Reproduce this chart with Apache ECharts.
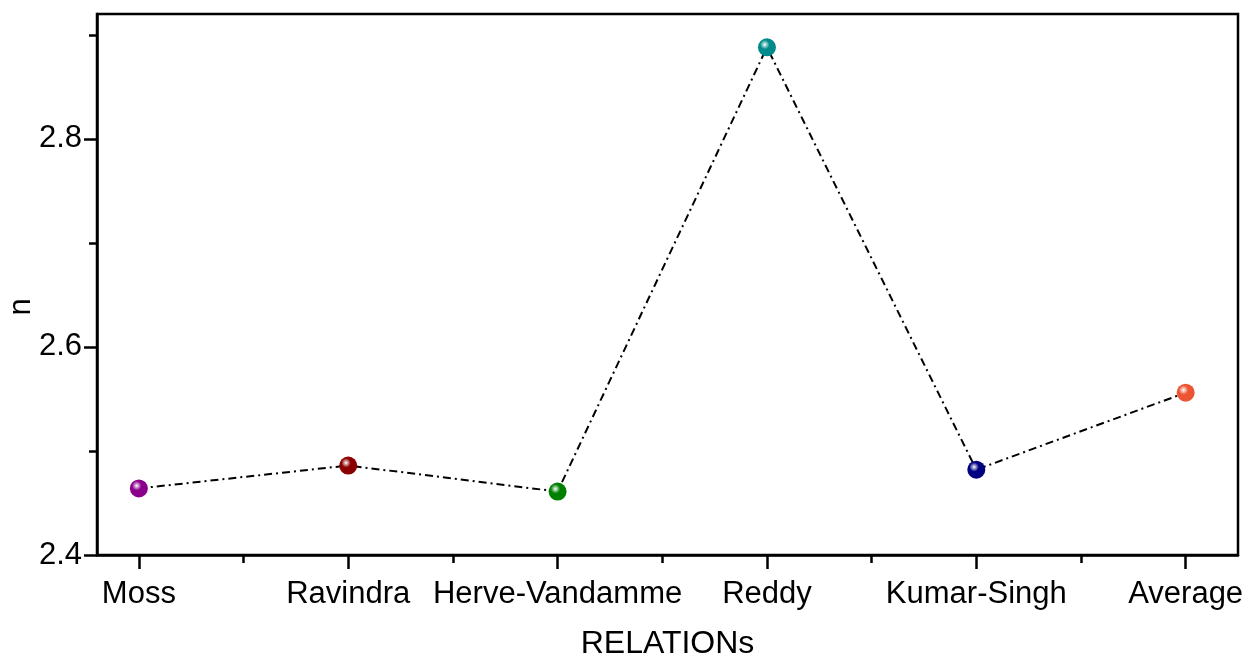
<!DOCTYPE html>
<html>
<head>
<meta charset="utf-8">
<script src="https://cdn.jsdelivr.net/npm/echarts@6/dist/echarts.min.js"></script>
<style>
  html, body { margin: 0; padding: 0; background: #fff; }
  #chart { width: 1249px; height: 660px; }
</style>
</head>
<body>
<div id="chart"></div>
<script>
// data
const relations = ['Moss', 'Ravindra', 'Herve-Vandamme', 'Reddy', 'Kumar-Singh', 'Average'];
const nValues = [2.464, 2.486, 2.461, 2.888, 2.482, 2.556];
const yMajorTicks = [2.4, 2.6, 2.8];
const yMinorTicks = [2.5, 2.7, 2.9];
const xMinorTicks = [0.5, 1.5, 2.5, 3.5, 4.5];

// ball colours, one per relation
const ballColors = ['#8b008b', '#8b0000', '#008000', '#008b8b', '#000080', '#ec5533'];

const chart = echarts.init(document.getElementById('chart'));

function ball(color) {
    return {
        type: 'radial', x: 0.38, y: 0.35, r: 0.65,
        colorStops: [
            { offset: 0, color: '#ffffff' },
            { offset: 0.4, color: color },
            { offset: 1, color: color }
        ]
    };
}

const font = 'Liberation Sans, Arial, sans-serif';
const xIdx = relations.map((_, i) => i);
const tickStyle = { color: '#000', width: 2.5 };

const option = {
    backgroundColor: '#fff',
    animation: false,
    grid: {
        left: 97, right: 11, top: 14, bottom: 105,
        outerBoundsMode: 'none',
        show: true, borderColor: '#000', borderWidth: 2.5
    },
    xAxis: [
        {
            type: 'value', min: -0.2, max: 5.25,
            name: 'RELATIONs', nameLocation: 'middle', nameGap: 73,
            nameTextStyle: { fontFamily: font, fontSize: 32, color: '#000' },
            axisLine: { onZero: false, lineStyle: { color: '#000', width: 2.5 } },
            axisTick: { show: true, customValues: xIdx, length: 14, lineStyle: tickStyle },
            axisLabel: {
                customValues: xIdx, margin: 24,
                fontFamily: font, fontSize: 31, color: '#000',
                formatter: v => relations[Math.round(v)]
            },
            splitLine: { show: false }
        },
        {
            type: 'value', min: -0.2, max: 5.25, position: 'bottom',
            axisLine: { show: false, onZero: false },
            axisTick: { show: true, customValues: xMinorTicks, length: 8, lineStyle: tickStyle },
            axisLabel: { show: false },
            splitLine: { show: false }
        }
    ],
    yAxis: [
        {
            type: 'value', min: 2.4, max: 2.92,
            name: 'n', nameLocation: 'middle', nameGap: 60, nameMoveOverlap: false,
            nameTextStyle: { fontFamily: font, fontSize: 31, color: '#000', padding: [0, 45, 0, 0] },
            axisLine: { show: true, onZero: false, lineStyle: { color: '#000', width: 2.5 } },
            axisTick: { show: true, customValues: yMajorTicks, length: 13, lineStyle: tickStyle },
            axisLabel: {
                customValues: yMajorTicks, margin: 15,
                fontFamily: font, fontSize: 31, color: '#000',
                formatter: v => v.toFixed(1)
            },
            splitLine: { show: false }
        },
        {
            type: 'value', min: 2.4, max: 2.92, position: 'left',
            axisLine: { show: false, onZero: false },
            axisTick: { show: true, customValues: yMinorTicks, length: 8, lineStyle: tickStyle },
            axisLabel: { show: false },
            splitLine: { show: false }
        }
    ],
    series: [{
        type: 'line',
        xAxisIndex: 0, yAxisIndex: 0,
        data: nValues.map((v, i) => ({
            value: [i, v],
            itemStyle: { color: ball(ballColors[i]), borderWidth: 0 }
        })),
        symbol: 'circle',
        symbolSize: 18,
        lineStyle: { color: '#000', width: 2, type: [8, 4, 2, 4] },
        z: 3
    }]
};

chart.setOption(option);
</script>
</body>
</html>
